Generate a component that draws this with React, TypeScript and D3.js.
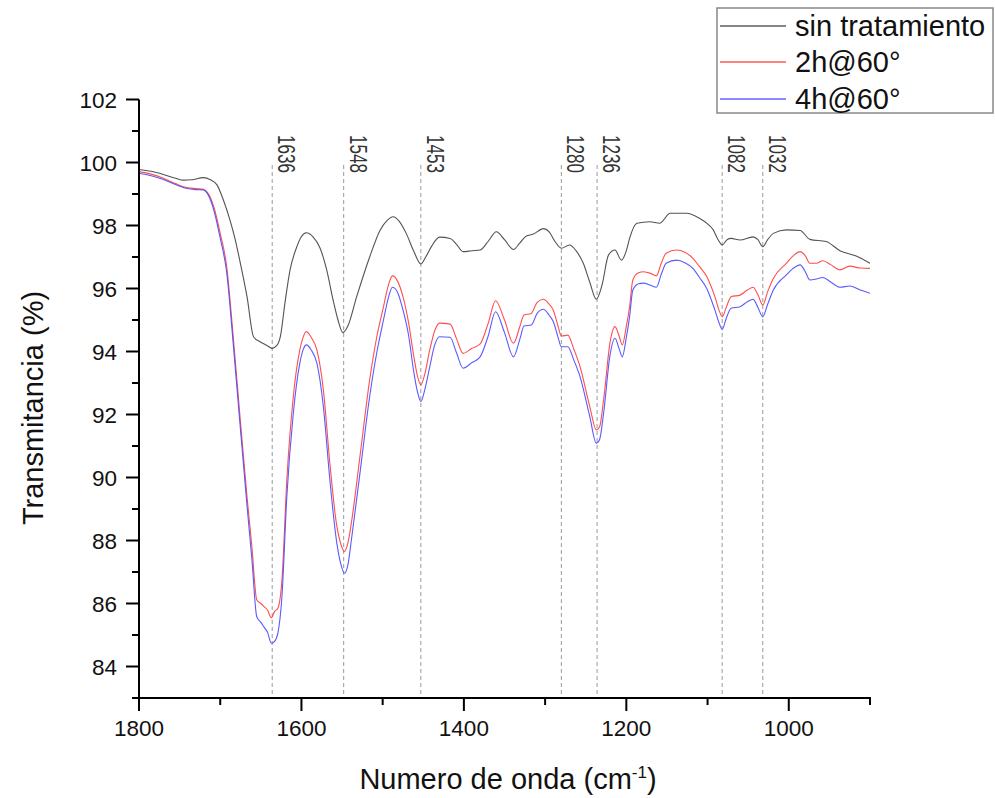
import React from "react";
import * as d3 from "d3";

const blackWn = [1800,1785,1770,1755,1745,1735,1721,1712,1704,1696,1688,1682,1676,1667,1659,1651,1643,1636,1630,1626,1620,1614,1606,1600,1594,1586,1577,1569,1561,1555,1549,1543,1532,1516,1503,1495,1487,1480,1471,1462,1453,1447,1440,1430,1417,1409,1401,1390,1380,1370,1360,1350,1339,1331,1323,1315,1302,1295,1288,1280,1270,1262,1253,1245,1237,1230,1222,1214,1206,1200,1196,1187,1171,1159,1146,1126,1110,1100,1093,1087,1082,1076,1071,1060,1044,1038,1032,1026,1019,1003,986,974,954,937,917,900];
const blackT = [99.78,99.72,99.62,99.5,99.44,99.45,99.52,99.45,99.29,98.8,98.17,97.6,96.9,95.74,94.47,94.31,94.2,94.1,94.2,94.47,95.6,96.59,97.3,97.65,97.77,97.65,97.28,96.6,95.63,95.0,94.6,94.8,95.74,97.0,97.86,98.15,98.28,98.15,97.75,97.2,96.78,97.0,97.33,97.63,97.59,97.4,97.17,97.2,97.22,97.5,97.8,97.55,97.24,97.45,97.67,97.72,97.9,97.8,97.5,97.28,97.38,97.2,96.8,96.2,95.66,96.1,97.06,97.22,96.9,97.2,97.59,98.07,98.12,98.07,98.39,98.39,98.23,98.05,97.86,97.55,97.38,97.55,97.59,97.54,97.64,97.55,97.33,97.55,97.75,97.86,97.84,97.56,97.49,97.2,97.03,96.8];

const treatedWn = [1800,1785,1770,1755,1745,1730,1721,1715,1708,1700,1692,1684,1676,1667,1661,1655,1650,1646,1642,1637,1633,1629,1624,1618,1610,1602,1598,1594,1588,1581,1573,1565,1557,1551,1547,1543,1538,1528,1516,1507,1499,1493,1488,1482,1475,1468,1462,1457,1453,1448,1442,1436,1430,1417,1409,1401,1390,1380,1370,1361,1350,1339,1331,1326,1317,1310,1302,1295,1290,1284,1280,1272,1265,1257,1245,1237,1233,1228,1220,1214,1209,1205,1200,1196,1192,1185,1179,1170,1163,1157,1151,1138,1128,1118,1110,1101,1091,1085,1082,1077,1071,1060,1051,1044,1038,1032,1026,1019,1003,994,986,980,974,966,958,948,937,925,912,900];
const redT = [99.71,99.63,99.5,99.33,99.23,99.17,99.15,99.02,98.6,97.75,96.69,94.47,92.04,89.39,87.8,86.11,86.0,85.9,85.8,85.55,85.75,85.85,86.75,89.92,92.57,94.05,94.45,94.63,94.45,94.05,92.78,90.45,88.55,87.85,87.65,87.9,88.65,90.66,93.1,94.5,95.42,96.1,96.4,96.25,95.74,94.9,93.9,93.2,92.94,93.3,94.05,94.65,94.9,94.87,94.4,93.94,94.1,94.24,94.9,95.61,95.0,94.26,94.8,95.16,95.21,95.55,95.66,95.5,95.32,94.8,94.49,94.52,94.1,93.52,92.25,91.51,91.6,92.46,94.3,94.79,94.5,94.21,94.8,95.42,96.27,96.5,96.53,96.48,96.4,96.8,97.12,97.22,97.15,96.96,96.7,96.38,95.74,95.25,95.1,95.4,95.74,95.79,95.95,96.04,95.8,95.48,95.9,96.32,96.8,97.05,97.17,97.05,96.8,96.8,96.88,96.75,96.59,96.71,96.65,96.64];
const blueT = [99.66,99.58,99.46,99.3,99.2,99.14,99.13,98.98,98.5,97.6,96.5,94.25,91.8,89.1,87.4,85.58,85.4,85.25,85.1,84.74,84.8,85.06,86.22,89.39,92.04,93.63,94.05,94.21,94.05,93.63,92.25,89.92,88.02,87.2,86.96,87.2,88.12,90.13,92.57,94.0,95.0,95.7,96.04,95.9,95.32,94.5,93.4,92.7,92.41,92.8,93.52,94.2,94.47,94.45,93.95,93.47,93.65,93.83,94.5,95.26,94.6,93.83,94.4,94.81,94.84,95.2,95.34,95.15,94.95,94.45,94.15,94.15,93.75,93.2,91.93,91.09,91.2,92.04,93.9,94.42,94.1,93.83,94.45,95.1,95.95,96.15,96.17,96.1,96.04,96.45,96.8,96.9,96.82,96.64,96.35,96.0,95.32,94.85,94.7,95.05,95.37,95.42,95.58,95.66,95.4,95.1,95.5,95.95,96.43,96.65,96.75,96.55,96.27,96.3,96.35,96.2,96.04,96.08,95.95,95.85];

const peaks = [1636, 1548, 1453, 1280, 1236, 1082, 1032];
const xMajor = [1800, 1600, 1400, 1200, 1000];
const xMinor = [1700, 1500, 1300, 1100, 900];
const yMajor = [84, 86, 88, 90, 92, 94, 96, 98, 100, 102];
const yMinor = [83, 85, 87, 89, 91, 93, 95, 97, 99, 101];
const seriesNames = ["sin tratamiento", "2h@60°", "4h@60°"];
const seriesColors = ["#404040", "#ff3b3b", "#4848ff"];

const FONT = "'Liberation Sans', Arial, sans-serif";

export default function App() {
  const x = d3.scaleLinear().domain([1800, 900]).range([139, 870]);
  const y = d3.scaleLinear().domain([83, 102]).range([698, 99.5]);
  const line = d3
    .line<[number, number]>()
    .x((d) => x(d[0]))
    .y((d) => y(d[1]))
    .curve(d3.curveMonotoneX);
  const series = [
    blackWn.map((w, i) => [w, blackT[i]] as [number, number]),
    treatedWn.map((w, i) => [w, redT[i]] as [number, number]),
    treatedWn.map((w, i) => [w, blueT[i]] as [number, number]),
  ];
  const legendRows = [26, 62, 99];
  return (
    <svg
      width={995}
      height={798}
      style={{ position: "absolute", left: 0, top: 0, background: "#fff" }}
      fontFamily={FONT}
    >
      <rect x={0} y={0} width={995} height={798} fill="#fff" />
      {peaks.map((p) => (
        <g key={p}>
          <line
            x1={x(p)}
            x2={x(p)}
            y1={165}
            y2={698}
            stroke="#9a9a9a"
            strokeWidth={1}
            strokeDasharray="4,3"
          />
          <text
            transform={`translate(${x(p) + 6},135) rotate(90) scale(0.74,1)`}
            fontSize={23}
            fill="#333"
          >
            {p}
          </text>
        </g>
      ))}
      {series.map((s, i) => (
        <path
          key={i}
          d={line(s) || ""}
          fill="none"
          stroke={seriesColors[i]}
          strokeWidth={1.1}
          strokeOpacity={0.9}
        />
      ))}
      <line x1={139} x2={139} y1={99.5} y2={699} stroke="#000" strokeWidth={2} />
      <line x1={138} x2={871} y1={698} y2={698} stroke="#000" strokeWidth={2} />
      {yMajor.map((v) => (
        <g key={v}>
          <line x1={126} x2={139} y1={y(v)} y2={y(v)} stroke="#000" strokeWidth={2} />
          <text x={117} y={y(v)} dy="0.36em" textAnchor="end" fontSize={22.5} fill="#111">
            {v}
          </text>
        </g>
      ))}
      {yMinor.map((v) => (
        <line key={v} x1={132} x2={139} y1={y(v)} y2={y(v)} stroke="#000" strokeWidth={2} />
      ))}
      {xMajor.map((v) => (
        <g key={v}>
          <line x1={x(v)} x2={x(v)} y1={698} y2={711} stroke="#000" strokeWidth={2} />
          <text x={x(v)} y={736} textAnchor="middle" fontSize={22.5} fill="#111">
            {v}
          </text>
        </g>
      ))}
      {xMinor.map((v) => (
        <line key={v} x1={x(v)} x2={x(v)} y1={698} y2={705} stroke="#000" strokeWidth={2} />
      ))}
      <text x={508} y={789} textAnchor="middle" fontSize={29} fill="#111">
        Numero de onda (cm
        <tspan dy={-11} fontSize={17}>-1</tspan>
        <tspan dy={11}>)</tspan>
      </text>
      <text
        transform="translate(43,408) rotate(-90)"
        textAnchor="middle"
        fontSize={29}
        fill="#111"
      >
        Transmitancia (%)
      </text>
      <rect x={717} y={8} width={276} height={105} fill="#fff" stroke="#888" strokeWidth={1.5} />
      {seriesNames.map((n, i) => (
        <g key={n}>
          <line
            x1={720}
            x2={786}
            y1={legendRows[i]}
            y2={legendRows[i]}
            stroke={seriesColors[i]}
            strokeWidth={1.3}
            strokeOpacity={0.85}
          />
          <text x={795} y={legendRows[i]} dy="0.36em" fontSize={29} fill="#111">
            {n}
          </text>
        </g>
      ))}
    </svg>
  );
}
